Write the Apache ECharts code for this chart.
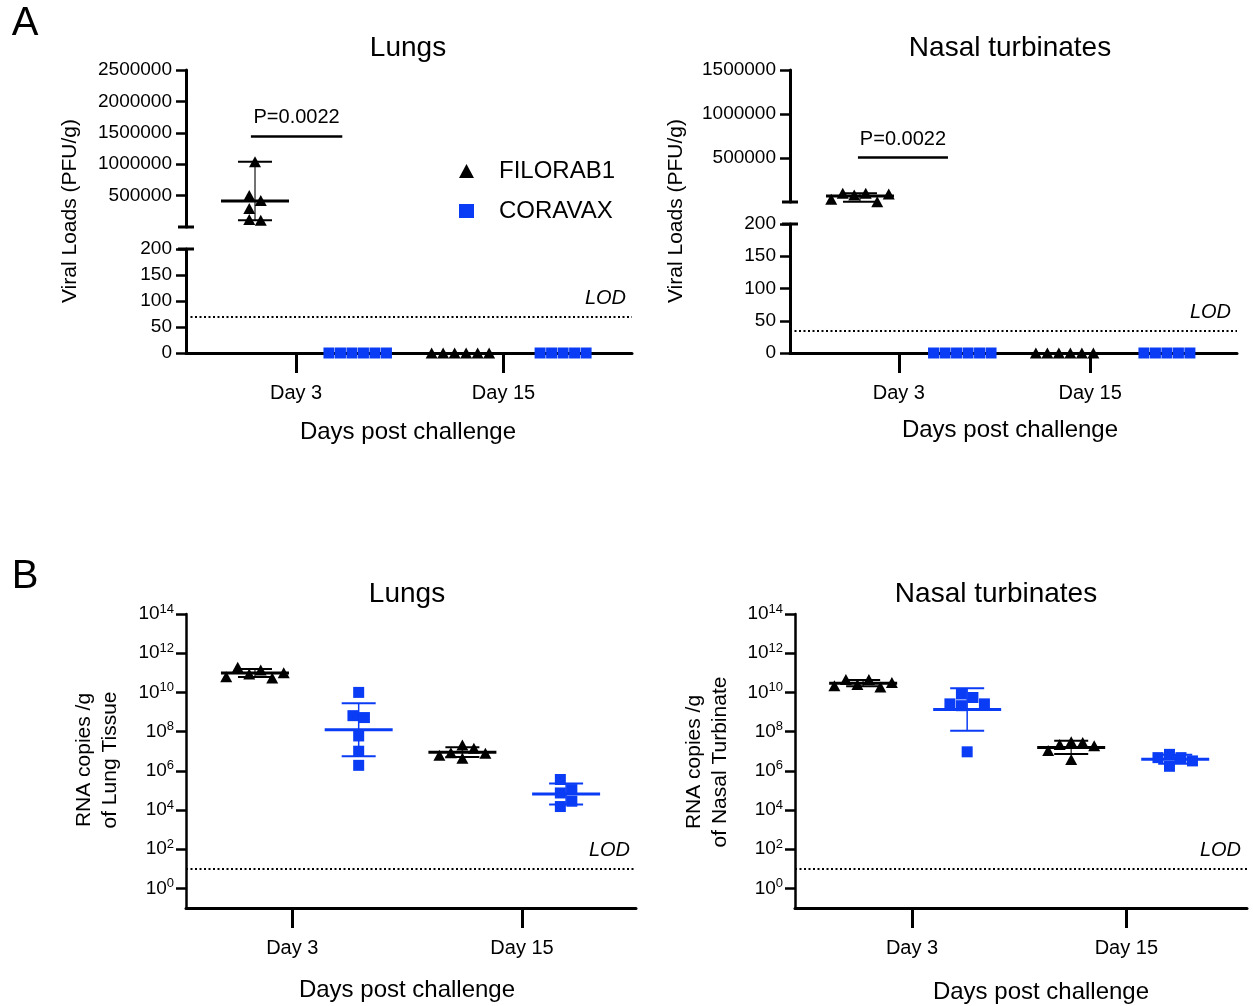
<!DOCTYPE html>
<html>
<head>
<meta charset="utf-8">
<script src="https://cdn.jsdelivr.net/npm/echarts@6.0.0/dist/echarts.min.js"></script>
<style>
html,body{margin:0;padding:0;background:#fff;}
#chart{width:1253px;height:1006px;}
</style>
</head>
<body>
<div id="chart"></div>
<script>
// ---------------- DATA ----------------
const treatments = ['FILORAB1', 'CORAVAX'];
const dayLabels = ['Day 3', 'Day 15'];
const pValueText = 'P=0.0022';
const lodText = 'LOD';

// Panel A – viral loads (PFU/g)
const pfuLungsFilorab1Day3 = [1040000, 500000, 420000, 295000, 118000, 108000];
const pfuLungsCoravaxDay3 = [0, 0, 0, 0, 0, 0];
const pfuLungsFilorab1Day15 = [0, 0, 0, 0, 0, 0];
const pfuLungsCoravaxDay15 = [0, 0, 0, 0, 0];
const pfuNasalFilorab1Day3 = [31000, 99000, 80000, 99000, 3000, 91000];
const pfuNasalCoravaxDay3 = [0, 0, 0, 0, 0, 0];
const pfuNasalFilorab1Day15 = [0, 0, 0, 0, 0, 0];
const pfuNasalCoravaxDay15 = [0, 0, 0, 0, 0];
const pfuLungsLOD = 70;
const pfuNasalLOD = 35;
const pfuLungsTopTicks = [500000, 1000000, 1500000, 2000000, 2500000];
const pfuNasalTopTicks = [500000, 1000000, 1500000];
const pfuLowTicks = [0, 50, 100, 150, 200];

// Panel B – RNA copies / g
const rnaLungsFilorab1Day3 = [6.3e10, 1.9e11, 8.7e10, 1.4e11, 5.5e10, 1.0e11];
const rnaLungsCoravaxDay3 = [1.0e10, 6.5e8, 5.2e8, 6.0e7, 1.0e7, 1.9e6];
const rnaLungsFilorab1Day15 = [6.2e6, 1.4e7, 7.8e6, 8.3e6, 2.1e7, 4.4e6];
const rnaLungsCoravaxDay15 = [3.6e5, 7.4e4, 1.5e4, 1.1e5, 2.8e4];
const rnaNasalFilorab1Day3 = [2.2e10, 4.5e10, 2.5e10, 4.5e10, 1.9e10, 3.2e10];
const rnaNasalCoravaxDay3 = [5.5e9, 2.6e9, 2.6e9, 8.3e9, 2.1e9, 9.3e6];
const rnaNasalFilorab1Day15 = [2.8e7, 1.9e7, 3.8e6, 3.0e7, 1.1e7, 2.2e7];
const rnaNasalCoravaxDay15 = [6.9e6, 1.7e6, 4.7e6, 3.2e6, 4.7e6];
const rnaLOD = 10;
const rnaTicks = [1e0, 1e2, 1e4, 1e6, 1e8, 1e10, 1e12, 1e14];

// ---------------- STYLE / LAYOUT ----------------
const FONT = '"Liberation Sans", Arial, Helvetica, sans-serif';
const BLACK = '#000000';
const BLUE = '#0a3cf5';
const TRI_SIZE = [12, 11];
const SQ_SIZE = 11;
const SPACING = 11.5;
const OVERLAP = 11;

const layouts = {
  aLungs: { top: {left: 186, top: 70, width: 446, height: 157}, bottom: {left: 186, top: 249, width: 446, height: 104},
            xMin: 0.328, xMax: 4.671, xTicks: [1.40, 3.42], pLine: [0.96, 1.85, 1450000] },
  aNasal: { top: {left: 790, top: 70, width: 447, height: 132}, bottom: {left: 790, top: 224, width: 447, height: 129},
            xMin: 0.316, xMax: 4.685, xTicks: [1.38, 3.25], pLine: [0.98, 1.86, 511000] },
  bLungs: { grid: {left: 186, top: 614, width: 450, height: 294}, xMin: 0.335, xMax: 4.674, xTicks: [1.36, 3.575] },
  bNasal: { grid: {left: 795, top: 614, width: 452, height: 294}, xMin: 0.345, xMax: 4.69, xTicks: [1.47, 3.53] }
};

const panels = [
  { kind: 'pfu', L: layouts.aLungs, lod: pfuLungsLOD, topTicks: pfuLungsTopTicks,
    groups: [[pfuLungsFilorab1Day3, pfuLungsCoravaxDay3], [pfuLungsFilorab1Day15, pfuLungsCoravaxDay15]] },
  { kind: 'pfu', L: layouts.aNasal, lod: pfuNasalLOD, topTicks: pfuNasalTopTicks,
    groups: [[pfuNasalFilorab1Day3, pfuNasalCoravaxDay3], [pfuNasalFilorab1Day15, pfuNasalCoravaxDay15]] },
  { kind: 'rna', L: layouts.bLungs, lod: rnaLOD,
    groups: [[rnaLungsFilorab1Day3, rnaLungsCoravaxDay3], [rnaLungsFilorab1Day15, rnaLungsCoravaxDay15]] },
  { kind: 'rna', L: layouts.bNasal, lod: rnaLOD,
    groups: [[rnaNasalFilorab1Day3, rnaNasalCoravaxDay3], [rnaNasalFilorab1Day15, rnaNasalCoravaxDay15]] }
];

const chart = echarts.init(document.getElementById('chart'), null, {width: 1253, height: 1006});

function nearestIdx(arr, v) {
  let b = 0;
  arr.forEach((a, i) => { if (Math.abs(a - v) < Math.abs(arr[b] - v)) b = i; });
  return b;
}
function xVisible(L) {
  return {
    type: 'value', min: L.xMin, max: L.xMax,
    axisLine: {show: true, onZero: false, lineStyle: {color: BLACK, width: 3}},
    axisTick: {show: true, customValues: L.xTicks, length: 20, lineStyle: {color: BLACK, width: 3}},
    axisLabel: {show: true, customValues: L.xTicks, margin: 30, fontSize: 20, color: BLACK, fontFamily: FONT,
                formatter: v => dayLabels[nearestIdx(L.xTicks, v)]},
    splitLine: {show: false}
  };
}
function xHidden(L) { return {type: 'value', min: L.xMin, max: L.xMax, show: false, splitLine: {show: false}}; }
function yLinear(ticks) {
  return {
    type: 'value', min: 0, max: ticks[ticks.length - 1], interval: ticks[1] - ticks[0],
    axisLine: {show: true, onZero: false, lineStyle: {color: BLACK, width: 3}},
    axisTick: {show: true, customValues: ticks, length: 10, lineStyle: {color: BLACK, width: 2.5}},
    axisLabel: {show: true, customValues: ticks, margin: 14, fontSize: 19, color: BLACK, fontFamily: FONT, formatter: v => String(v)},
    splitLine: {show: false}
  };
}
function yLog() {
  return {
    type: 'log', logBase: 10, min: 0.1, max: 1e14,
    axisLine: {show: true, onZero: false, lineStyle: {color: BLACK, width: 2.5}},
    axisTick: {show: true, customValues: rnaTicks, length: 10, lineStyle: {color: BLACK, width: 2.5}},
    axisLabel: {show: true, customValues: rnaTicks, margin: 12, color: BLACK, fontFamily: FONT,
      formatter: v => '{b|10}{s|' + Math.round(Math.log10(v)) + '}',
      rich: {b: {fontSize: 19, fontFamily: FONT, color: BLACK, lineHeight: 22},
             s: {fontSize: 13, fontFamily: FONT, color: BLACK, lineHeight: 22, padding: [0, 0, 10, 0]}}},
    splitLine: {show: false}
  };
}

const grids = [], xAxes = [], yAxes = [];
panels.forEach(p => {
  if (p.kind === 'pfu') {
    p.gTop = grids.length; grids.push(Object.assign({}, p.L.top));
    xAxes.push(Object.assign(xHidden(p.L), {gridIndex: p.gTop}));
    yAxes.push(Object.assign(yLinear(p.topTicks), {gridIndex: p.gTop}));
    p.gBot = grids.length; grids.push(Object.assign({}, p.L.bottom));
    xAxes.push(Object.assign(xVisible(p.L), {gridIndex: p.gBot}));
    yAxes.push(Object.assign(yLinear(pfuLowTicks), {gridIndex: p.gBot}));
  } else {
    p.gTop = p.gBot = grids.length; grids.push(Object.assign({}, p.L.grid));
    xAxes.push(Object.assign(xVisible(p.L), {gridIndex: p.gBot}));
    yAxes.push(Object.assign(yLog(), {gridIndex: p.gBot}));
  }
});

chart.setOption({animation: false, grid: grids, xAxis: xAxes, yAxis: yAxes});

// beeswarm-like horizontal spread computed in pixel space
function swarm(pys) {
  const n = pys.length;
  const idx = pys.map((_, i) => i);
  const sorted = idx.slice().sort((a, b) => pys[a] - pys[b]);
  const clusters = [];
  let cur = [sorted[0]];
  for (let k = 1; k < n; k++) {
    if (pys[sorted[k]] - pys[sorted[k - 1]] < OVERLAP) cur.push(sorted[k]);
    else { clusters.push(cur); cur = [sorted[k]]; }
  }
  clusters.push(cur);
  const off = new Array(n).fill(0);
  clusters.forEach(cl => {
    const ys = cl.map(i => pys[i]);
    const span = Math.max(...ys) - Math.min(...ys);
    if (span < OVERLAP) {
      const ordered = cl.slice().sort((a, b) => a - b);
      ordered.forEach((i, j) => { off[i] = (j - (ordered.length - 1) / 2) * SPACING; });
    } else {
      const placed = [];
      cl.forEach(i => {
        for (let k = 0; k < 40; k++) {
          const cand = k === 0 ? 0 : (k % 2 ? 1 : -1) * Math.ceil(k / 2) * SPACING;
          const ok = placed.every(j => Math.abs(off[j] - cand) >= SPACING - 0.01 || Math.abs(pys[j] - pys[i]) >= OVERLAP);
          if (ok) { off[i] = cand; placed.push(i); break; }
        }
      });
      const offs = cl.map(i => off[i]);
      const mid = (Math.min(...offs) + Math.max(...offs)) / 2;
      cl.forEach(i => { off[i] -= mid; });
    }
  });
  return off;
}
const mean = a => a.reduce((s, v) => s + v, 0) / a.length;
const sd = a => { const m = mean(a); return Math.sqrt(a.reduce((s, v) => s + (v - m) * (v - m), 0) / (a.length - 1)); };

function barRenderer(color, stemColor) {
  return function (params, api) {
    const x = api.value(0);
    const pc = api.coord([x, api.value(1)]);
    const pl = api.coord([x, api.value(2)]);
    const ph = api.coord([x, api.value(3)]);
    const cap = 34, mid = 68;
    return {type: 'group', children: [
      {type: 'line', shape: {x1: pc[0], y1: pl[1], x2: pc[0], y2: ph[1]}, style: {stroke: stemColor, lineWidth: 1.5}},
      {type: 'line', shape: {x1: pc[0] - cap / 2, y1: pl[1], x2: pc[0] + cap / 2, y2: pl[1]}, style: {stroke: color, lineWidth: 2}},
      {type: 'line', shape: {x1: pc[0] - cap / 2, y1: ph[1], x2: pc[0] + cap / 2, y2: ph[1]}, style: {stroke: color, lineWidth: 2}},
      {type: 'line', shape: {x1: pc[0] - mid / 2, y1: pc[1], x2: pc[0] + mid / 2, y2: pc[1]}, style: {stroke: color, lineWidth: 3}}
    ]};
  };
}

const series = [];
panels.forEach(p => {
  const buckets = {};
  const breakVal = pfuLowTicks[pfuLowTicks.length - 1];
  p.groups.forEach((row, day) => row.forEach((vals, t) => {
    const pos = day * 2 + t + 1;
    const gi = (p.kind === 'pfu' && Math.min(...vals) > breakVal) ? p.gTop : p.gBot;
    const pys = vals.map(v => chart.convertToPixel({gridIndex: gi}, [pos, v])[1]);
    const unit = chart.convertToPixel({gridIndex: gi}, [pos + 1, vals[0]])[0] - chart.convertToPixel({gridIndex: gi}, [pos, vals[0]])[0];
    const offs = swarm(pys);
    const key = gi + '_' + t;
    if (!buckets[key]) buckets[key] = {gi, t, points: [], bars: []};
    vals.forEach((v, i) => buckets[key].points.push([pos + offs[i] / unit, v]));
    if (p.kind === 'pfu') {
      const hi = Math.max(...vals);
      if (hi > 0) buckets[key].bars.push([pos, mean(vals), Math.min(...vals), hi]);
    } else {
      const logs = vals.map(v => Math.log10(v));
      const m = mean(logs), s = sd(logs);
      buckets[key].bars.push([pos, Math.pow(10, m), Math.pow(10, m - s), Math.pow(10, m + s)]);
    }
  }));
  Object.values(buckets).forEach(b => {
    const color = b.t === 0 ? BLACK : BLUE;
    const stem = b.t === 0 ? '#444' : BLUE;
    if (b.bars.length) series.push({
      type: 'custom', name: treatments[b.t] + ' bars', xAxisIndex: b.gi, yAxisIndex: b.gi, clip: false, silent: true,
      renderItem: barRenderer(color, stem), encode: {x: 0, y: [1, 2, 3]}, data: b.bars, z: 3
    });
    series.push({
      type: 'scatter', name: treatments[b.t], xAxisIndex: b.gi, yAxisIndex: b.gi, clip: false, silent: true,
      symbol: b.t === 0 ? 'triangle' : 'rect', symbolSize: b.t === 0 ? TRI_SIZE : SQ_SIZE,
      itemStyle: {color: color, opacity: 1}, data: b.points, z: 4
    });
  });
  series.push({
    type: 'scatter', name: 'lod', xAxisIndex: p.gBot, yAxisIndex: p.gBot, data: [], silent: true,
    markLine: {silent: true, symbol: ['none', 'none'], animation: false,
      lineStyle: {color: BLACK, width: 2, type: [2, 2.5]},
      label: {show: true, formatter: lodText, position: 'insideEndTop', distance: [6, 8], fontSize: 20, fontStyle: 'italic', color: BLACK, fontFamily: FONT},
      data: [{yAxis: p.lod}]}
  });
  if (p.L.pLine) {
    const pl = p.L.pLine;
    series.push({
      type: 'scatter', name: 'pval', xAxisIndex: p.gTop, yAxisIndex: p.gTop, data: [], silent: true,
      markLine: {silent: true, symbol: ['none', 'none'], animation: false,
        lineStyle: {color: BLACK, width: 2.5, type: 'solid'},
        label: {show: true, formatter: pValueText, position: 'insideMiddleTop', distance: 8, fontSize: 20, color: BLACK, fontFamily: FONT},
        data: [[{coord: [pl[0], pl[2]]}, {coord: [pl[1], pl[2]]}]]}
    });
  }
});

// texts & axis-break caps
const graphics = [];
function txt(text, x, y, size, opts) {
  opts = opts || {};
  graphics.push({type: 'text', x: x, y: y, rotation: opts.rot || 0, silent: true,
    style: {text: text, font: (opts.italic ? 'italic ' : '') + size + 'px ' + FONT, fill: BLACK,
            textAlign: 'center', textVerticalAlign: 'middle', align: 'center', verticalAlign: 'middle',
            lineHeight: opts.lh || size * 1.2}});
}
txt('A', 25, 24, 40);
txt('B', 25, 577, 40);
txt('Lungs', 408, 48, 28);
txt('Nasal turbinates', 1010, 48, 28);
txt('Lungs', 407, 594, 28);
txt('Nasal turbinates', 996, 594, 28);
txt('Days post challenge', 408, 432, 24);
txt('Days post challenge', 1010, 430, 24);
txt('Days post challenge', 407, 990, 24);
txt('Days post challenge', 1041, 992, 24);
txt('Viral Loads (PFU/g)', 70, 211, 21, {rot: Math.PI / 2});
txt('Viral Loads (PFU/g)', 676, 211, 21, {rot: Math.PI / 2});
txt('RNA copies /g\nof Lung Tissue', 97, 760, 21, {rot: Math.PI / 2, lh: 26});
txt('RNA copies /g\nof Nasal Turbinate', 707, 762, 21, {rot: Math.PI / 2, lh: 26});

panels.forEach(p => {
  if (p.kind !== 'pfu') return;
  const a = chart.convertToPixel({gridIndex: p.gTop}, [p.L.xMin, 0]);
  const b = chart.convertToPixel({gridIndex: p.gBot}, [p.L.xMin, pfuLowTicks[pfuLowTicks.length - 1]]);
  [a, b].forEach(pt => graphics.push({type: 'line', silent: true, z: 10,
    shape: {x1: pt[0] - 8, y1: pt[1], x2: pt[0] + 8, y2: pt[1]}, style: {stroke: BLACK, lineWidth: 3}}));
});

chart.setOption({
  legend: {
    data: [{name: 'FILORAB1', icon: 'triangle'}, {name: 'CORAVAX', icon: 'rect'}],
    orient: 'vertical', left: 454, top: 154, itemWidth: 15, itemHeight: 14, itemGap: 16,
    selectedMode: false,
    textStyle: {fontSize: 24, fontFamily: FONT, color: BLACK, padding: [0, 0, 0, 20]}
  },
  series: series,
  graphic: graphics
});
</script>
</body>
</html>
